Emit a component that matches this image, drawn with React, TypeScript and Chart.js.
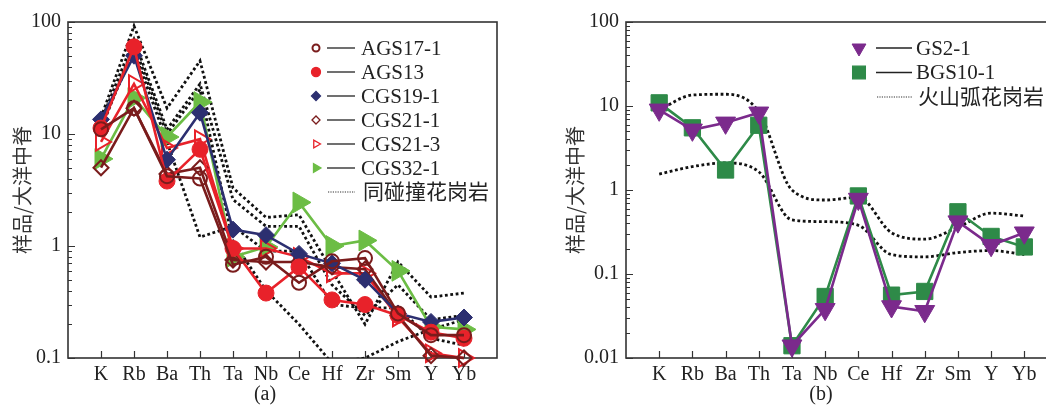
import React, { useEffect, useRef } from 'react';
import { Chart, registerables } from 'chart.js';
import { drawPoint } from 'chart.js/helpers';

Chart.register(...registerables);

// ---------- data ----------
const ELEMENTS = ['K', 'Rb', 'Ba', 'Th', 'Ta', 'Nb', 'Ce', 'Hf', 'Zr', 'Sm', 'Y', 'Yb'];

// panel (a)
const AGS17_1 = [11, 17, 4.2, 4.0, 0.68, 0.8, 0.47, 0.73, 0.78, 0.25, 0.16, 0.16];
const AGS13 = [11.3, 60, 3.8, 7.3, 0.95, 0.38, 0.65, 0.33, 0.3, 0.24, 0.17, 0.15];
const CGS19_1 = [13.5, 50, 5.9, 15.5, 1.4, 1.25, 0.85, 0.7, 0.5, 0.25, 0.21, 0.23];
const CGS21_1 = [5.0, 17, 4.4, 5.0, 0.75, 0.72, 0.72, 0.65, 0.62, 0.24, 0.105, 0.1];
const CGS21_3 = [8.5, 28, 7.5, 9.0, 0.95, 0.95, 0.8, 0.57, 0.57, 0.23, 0.11, 0.1];
const CGS32_1 = [6.0, 21, 9.4, 19.3, 0.8, 0.98, 2.45, 1.0, 1.12, 0.6, 0.19, 0.18];
const SYN_COLG_A = [14, 92, 17, 45, 3.3, 1.8, 1.9, 0.6, 0.2, 0.72, 0.35, 0.38];
const SYN_COLG_B = [13, 70, 11, 28, 2.6, 1.5, 1.5, 0.45, 0.24, 0.45, 0.22, 0.24];
const SYN_COLG_C = [12, 55, 8.5, 1.2, 1.5, 0.9, 0.9, 0.3, 0.28, 0.28, 0.15, 0.13];
const SYN_COLG_D = [11, 62, 10, 25, 1.1, 0.4, 0.2, 0.09, 0.1, 0.14, 0.18, 0.22];

// panel (b)
const GS2_1 = [9.0, 5.2, 6.3, 8.3, 0.014, 0.038, 0.78, 0.041, 0.036, 0.42, 0.22, 0.31];
const BGS10_1 = [10.9, 5.5, 1.73, 5.9, 0.014, 0.054, 0.85, 0.056, 0.062, 0.55, 0.28, 0.21];
const VAG_UPPER = [9, 13.5, 13.8, 8.5, 1.0, 0.76, 0.82, 0.31, 0.26, 0.36, 0.53, 0.49];
const VAG_LOWER = [1.55, 1.9, 2.1, 1.65, 0.44, 0.42, 0.38, 0.17, 0.16, 0.18, 0.19, 0.17];

const Y_TITLE = '样品/大洋中脊';
const LABEL_A = '同碰撞花岗岩';
const LABEL_B = '火山弧花岗岩';

// ---------- styles ----------
const SERIF = '"Liberation Serif", "Times New Roman", "Noto Sans CJK SC", serif';
const CJK = '"Noto Sans CJK SC", sans-serif';
const TEXT = '#222';

const MAROON = '#7a1c1c';
const RED = '#e8222a';
const NAVY = '#2c2f70';
const LGREEN = '#6cbd45';
const PURPLE = '#7b2a8c';
const DGREEN = '#2e8a48';

const toXY = (arr: number[]) => arr.map((v, i) => ({ x: i, y: v }));

function series(label: string, arr: number[], color: string, style: string, rotation: number, radius: number, filled: boolean, legendRadius: number) {
  return {
    label,
    data: toXY(arr),
    borderColor: color,
    backgroundColor: color,
    borderWidth: 2.6,
    pointStyle: style,
    pointRotation: rotation,
    pointRadius: radius,
    pointBorderWidth: filled ? 1 : 2,
    pointBorderColor: color,
    pointBackgroundColor: filled ? color : 'rgba(255,255,255,0)',
    clip: false,
    legendItem: { kind: 'marker', style, rotation, radius: legendRadius, filled, color },
  };
}

function dotted(label: string, arr: number[], showLegend: boolean, smooth: boolean) {
  return {
    label,
    data: toXY(arr),
    borderColor: '#111',
    borderWidth: 2.8,
    borderDash: [2.8, 2.6],
    pointRadius: 0,
    cubicInterpolationMode: smooth ? 'monotone' : 'default',
    legendItem: showLegend ? { kind: 'dotted' } : null,
  };
}

const powers = (min: number, max: number) => {
  const out: number[] = [];
  for (let e = Math.round(Math.log10(min)); e <= Math.round(Math.log10(max)); e++) out.push(Math.pow(10, e));
  return out;
};
const fmtPow = (v: number) => {
  const e = Math.round(Math.log10(v));
  return e >= 0 ? String(Math.pow(10, e)) : (Math.pow(10, e)).toFixed(-e);
};

const framePlugin = {
  id: 'frameTicks',
  beforeDatasetsDraw(chart: any) {
    const { ctx, chartArea: a, scales } = chart;
    ctx.save();
    ctx.strokeStyle = '#333';
    ctx.lineWidth = 1.6;
    ctx.strokeRect(a.left, a.top, a.right - a.left, a.bottom - a.top);
    ctx.lineWidth = 1.2;
    ctx.beginPath();
    const xs = scales.x;
    ELEMENTS.forEach((_, i) => {
      const px = Math.round(xs.getPixelForValue(i)) + 0.5;
      ctx.moveTo(px, a.bottom);
      ctx.lineTo(px, a.bottom - 7);
    });
    const ys = scales.y;
    const min = ys.min, max = ys.max;
    for (let e = Math.round(Math.log10(min)); e <= Math.round(Math.log10(max)); e++) {
      for (let k = 1; k <= 9; k++) {
        const v = k * Math.pow(10, e);
        if (v < min * 0.999 || v > max * 1.001) continue;
        const py = Math.round(ys.getPixelForValue(v)) + 0.5;
        ctx.moveTo(a.left, py);
        ctx.lineTo(a.left + (k === 1 ? 7 : 4), py);
      }
    }
    ctx.stroke();
    ctx.restore();
  },
};

const legendPlugin = {
  id: 'customLegend',
  afterDraw(chart: any, _args: any, opts: any) {
    const { ctx } = chart;
    ctx.save();
    let row = 0;
    chart.data.datasets.forEach((ds: any) => {
      const item = ds.legendItem;
      if (!item) return;
      const y = opts.top + row * opts.gap;
      row++;
      if (item.kind === 'marker') {
        ctx.fillStyle = item.filled ? item.color : 'rgba(255,255,255,0)';
        ctx.strokeStyle = item.color;
        drawPoint(ctx, { pointStyle: item.style, rotation: item.rotation, radius: item.radius, borderWidth: item.filled ? 0.5 : 1.5 } as any, opts.markerX, y);
        ctx.strokeStyle = '#222';
        ctx.lineWidth = 1.3;
        ctx.setLineDash([]);
        ctx.beginPath();
        ctx.moveTo(opts.lineX1, y);
        ctx.lineTo(opts.lineX2, y);
        ctx.stroke();
      } else {
        ctx.strokeStyle = '#333';
        ctx.lineWidth = 1.2;
        ctx.setLineDash([1.2, 1.2]);
        ctx.beginPath();
        ctx.moveTo(opts.lineX1 + 1, y);
        ctx.lineTo(opts.lineX2, y);
        ctx.stroke();
        ctx.setLineDash([]);
      }
      ctx.fillStyle = TEXT;
      ctx.font = `21px ${SERIF}`;
      ctx.textAlign = 'left';
      ctx.textBaseline = 'middle';
      ctx.fillText(ds.label, opts.textX + (item.kind === 'dotted' ? 2 : 0), y + 1);
    });
    // panel label
    ctx.fillStyle = TEXT;
    ctx.font = `20px ${SERIF}`;
    ctx.textAlign = 'center';
    ctx.textBaseline = 'middle';
    ctx.fillText(opts.panelLabel, opts.panelX, 395);
    ctx.restore();
  },
};

function makeOptions(p: { yMin: number; yMax: number; yWidth: number; yTitlePad: number; rightPad: number; legend: any }) {
  return {
    animation: false,
    responsive: false,
    devicePixelRatio: 1,
    events: [],
    layout: { padding: { top: 22, right: p.rightPad, left: 0, bottom: 0 } },
    plugins: {
      legend: { display: false },
      tooltip: { enabled: false },
      customLegend: p.legend,
    },
    scales: {
      x: {
        type: 'linear',
        min: -1,
        max: 12,
        grid: { display: false, drawTicks: false },
        border: { display: false },
        afterBuildTicks: (s: any) => {
          s.ticks = ELEMENTS.map((_, i) => ({ value: i }));
        },
        afterFit: (s: any) => {
          s.height = 47;
        },
        ticks: {
          autoSkip: false,
          maxRotation: 0,
          minRotation: 0,
          padding: 5,
          color: TEXT,
          font: { family: SERIF, size: 20 },
          callback: (v: any) => ELEMENTS[v] ?? '',
        },
      },
      y: {
        type: 'logarithmic',
        min: p.yMin,
        max: p.yMax,
        grid: { display: false, drawTicks: false },
        border: { display: false },
        afterBuildTicks: (s: any) => {
          s.ticks = powers(p.yMin, p.yMax).map((v) => ({ value: v }));
        },
        afterFit: (s: any) => {
          s.width = p.yWidth;
        },
        ticks: {
          autoSkip: false,
          padding: 7,
          color: TEXT,
          font: { family: SERIF, size: 20 },
          callback: (v: any) => fmtPow(Number(v)),
        },
        title: {
          display: true,
          text: Y_TITLE,
          color: '#333',
          font: { family: CJK, size: 20 },
          padding: { top: p.yTitlePad, bottom: 0 },
        },
      },
    },
  };
}

function ChartCanvas({ config, left, width }: { config: any; left: number; width: number }) {
  const ref = useRef<HTMLCanvasElement | null>(null);
  useEffect(() => {
    if (!ref.current) return;
    const chart = new Chart(ref.current, config);
    return () => chart.destroy();
  }, []);
  return (
    <canvas
      ref={ref}
      width={width}
      height={405}
      style={{ position: 'absolute', left, top: 0, width, height: 405, display: 'block' }}
    />
  );
}

export default function App() {
  const configA = {
    type: 'line',
    data: {
      datasets: [
        series('AGS17-1', AGS17_1, MAROON, 'circle', 0, 7, false, 3.5),
        series('AGS13', AGS13, RED, 'circle', 0, 8, true, 4.5),
        series('CGS19-1', CGS19_1, NAVY, 'rectRot', 0, 8.5, true, 4.5),
        series('CGS21-1', CGS21_1, MAROON, 'rectRot', 0, 7.5, false, 4),
        series('CGS21-3', CGS21_3, RED, 'triangle', 90, 10, false, 4.5),
        series('CGS32-1', CGS32_1, LGREEN, 'triangle', 90, 12, true, 5),
        dotted(LABEL_A, SYN_COLG_A, true, false),
        dotted(LABEL_A, SYN_COLG_B, false, false),
        dotted(LABEL_A, SYN_COLG_C, false, false),
        dotted(LABEL_A, SYN_COLG_D, false, false),
      ],
    },
    options: makeOptions({
      yMin: 0.1,
      yMax: 100,
      yWidth: 68,
      yTitlePad: 10.5,
      rightPad: 12,
      legend: { top: 48, gap: 24, markerX: 316, lineX1: 327, lineX2: 355, textX: 361, panelLabel: '(a)', panelX: 265 },
    }),
    plugins: [framePlugin, legendPlugin],
  };

  const configB = {
    type: 'line',
    data: {
      datasets: [
        series('GS2-1', GS2_1, PURPLE, 'triangle', 180, 11.5, true, 8),
        series('BGS10-1', BGS10_1, DGREEN, 'rect', 0, 11.5, true, 9),
        dotted(LABEL_B, VAG_UPPER, true, true),
        dotted(LABEL_B, VAG_LOWER, false, true),
      ],
    },
    options: makeOptions({
      yMin: 0.01,
      yMax: 100,
      yWidth: 106,
      yTitlePad: 43,
      rightPad: 12.4,
      legend: { top: 48, gap: 24.5, markerX: 339, lineX1: 356, lineX2: 392, textX: 396, panelLabel: '(b)', panelX: 301 },
    }),
    plugins: [framePlugin, legendPlugin],
  };

  return (
    <div style={{ position: 'fixed', left: 0, top: 0, width: 1046, height: 405, overflow: 'hidden', background: '#fff' }}>
      <ChartCanvas config={configA} left={0} width={510} />
      <ChartCanvas config={configB} left={520} width={550} />
    </div>
  );
}
